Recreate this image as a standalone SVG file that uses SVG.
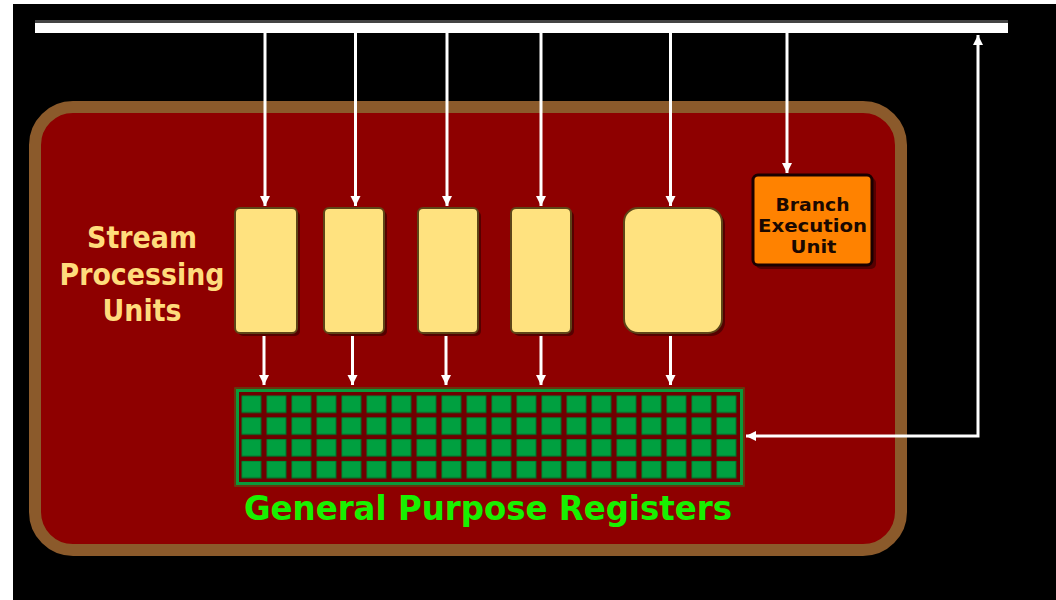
<svg xmlns="http://www.w3.org/2000/svg" width="1056" height="600" viewBox="0 0 1056 600">
  <style>
    .bus { fill: #ffffff; }
    .wire { fill: none; stroke: #ffffff; stroke-width: 3; }
    .spu { fill: #ffe27f; stroke: #5e4518; stroke-width: 2; }
    .shadow { fill: #560000; }
    .label { font-family: "DejaVu Sans", "Liberation Sans", sans-serif; font-weight: bold; }
    .spu-label { fill: #ffdc7c; font-size: 30px; }
    .beu-label { fill: #1a0800; font-size: 18px; }
    .gpr-label { fill: #18f000; font-size: 34px; }
  </style>
  <defs>
    <marker id="head" viewBox="0 0 10 10" refX="10" refY="5" markerWidth="10" markerHeight="12" markerUnits="userSpaceOnUse" orient="auto-start-reverse">
      <path d="M0,0 L10,5 L0,10 z" fill="#ffffff"/>
    </marker>
    <pattern id="cells" patternUnits="userSpaceOnUse" x="241.5" y="395.5" width="25" height="21.8">
      <rect x="0" y="0" width="19.5" height="17" fill="#00a040" stroke="#00702a" stroke-width="1"/>
    </pattern>
  </defs>

  <!-- backdrop -->
  <rect x="0" y="0" width="1056" height="600" fill="#ffffff"/>
  <rect x="13" y="4" width="1043" height="596" fill="#000000"/>

  <!-- processor core frame -->
  <g id="core">
    <rect x="35" y="107" width="866" height="443" rx="38" fill="#8e0000" stroke="#8b5a2b" stroke-width="12"/>
  </g>

  <!-- result bus -->
  <g id="bus">
    <rect x="35" y="20" width="973" height="3" fill="#444444"/>
    <rect class="bus" x="35" y="23" width="973" height="10"/>
  </g>

  <!-- connectors -->
  <g id="connectors">
    <line class="wire" x1="265" y1="33" x2="265" y2="206" marker-end="url(#head)"/>
    <line class="wire" x1="355.5" y1="33" x2="355.5" y2="206" marker-end="url(#head)"/>
    <line class="wire" x1="447" y1="33" x2="447" y2="206" marker-end="url(#head)"/>
    <line class="wire" x1="541" y1="33" x2="541" y2="206" marker-end="url(#head)"/>
    <line class="wire" x1="670.5" y1="33" x2="670.5" y2="206" marker-end="url(#head)"/>
    <line class="wire" x1="787" y1="33" x2="787" y2="173" marker-end="url(#head)"/>

    <line class="wire" x1="264" y1="334" x2="264" y2="385" marker-end="url(#head)"/>
    <line class="wire" x1="352.5" y1="334" x2="352.5" y2="385" marker-end="url(#head)"/>
    <line class="wire" x1="446" y1="334" x2="446" y2="385" marker-end="url(#head)"/>
    <line class="wire" x1="541" y1="334" x2="541" y2="385" marker-end="url(#head)"/>
    <line class="wire" x1="670.5" y1="334" x2="670.5" y2="385" marker-end="url(#head)"/>

    <path class="wire" d="M746,436 H978 V35" stroke-width="3.5" marker-start="url(#head)" marker-end="url(#head)"/>
  </g>

  <!-- stream processing units -->
  <g id="spu-label">
    <text class="label spu-label" x="142" y="248" text-anchor="middle" textLength="110" lengthAdjust="spacingAndGlyphs">Stream</text>
    <text class="label spu-label" x="142" y="285" text-anchor="middle" textLength="165" lengthAdjust="spacingAndGlyphs">Processing</text>
    <text class="label spu-label" x="142" y="321" text-anchor="middle" textLength="79" lengthAdjust="spacingAndGlyphs">Units</text>
  </g>
  <g id="spu-1">
    <rect class="shadow" x="238" y="211" width="62" height="125" rx="5"/>
    <rect class="spu" x="235" y="208" width="62" height="125" rx="5"/>
  </g>
  <g id="spu-2">
    <rect class="shadow" x="327" y="211" width="60" height="125" rx="5"/>
    <rect class="spu" x="324" y="208" width="60" height="125" rx="5"/>
  </g>
  <g id="spu-3">
    <rect class="shadow" x="421" y="211" width="60" height="125" rx="5"/>
    <rect class="spu" x="418" y="208" width="60" height="125" rx="5"/>
  </g>
  <g id="spu-4">
    <rect class="shadow" x="514" y="211" width="60" height="125" rx="5"/>
    <rect class="spu" x="511" y="208" width="60" height="125" rx="5"/>
  </g>
  <g id="spu-5">
    <rect class="shadow" x="627" y="211" width="98" height="125" rx="14"/>
    <rect class="spu" x="624" y="208" width="98" height="125" rx="14"/>
  </g>

  <!-- branch execution unit -->
  <g id="branch-unit">
    <rect class="shadow" x="756" y="178" width="120" height="91" rx="5"/>
    <rect x="753" y="175" width="119" height="90" rx="5" fill="#ff8200" stroke="#1a0000" stroke-width="3"/>
    <text class="label beu-label" x="812.5" y="211" text-anchor="middle" textLength="74" lengthAdjust="spacingAndGlyphs">Branch</text>
    <text class="label beu-label" x="812.5" y="232" text-anchor="middle" textLength="109" lengthAdjust="spacingAndGlyphs">Execution</text>
    <text class="label beu-label" x="813.5" y="253" text-anchor="middle" textLength="46" lengthAdjust="spacingAndGlyphs">Unit</text>
  </g>

  <!-- general purpose registers -->
  <g id="registers">
    <rect x="235" y="388" width="509" height="98" fill="none" stroke="#5a4a12" stroke-width="1.5"/>
    <rect x="237.5" y="390.5" width="504" height="93" fill="#6e0000" stroke="#0a9a3a" stroke-width="3"/>
    <rect x="239" y="392" width="501" height="90" fill="url(#cells)"/>
    <text class="label gpr-label" x="488" y="520" text-anchor="middle" textLength="488" lengthAdjust="spacingAndGlyphs">General Purpose Registers</text>
  </g>
</svg>
